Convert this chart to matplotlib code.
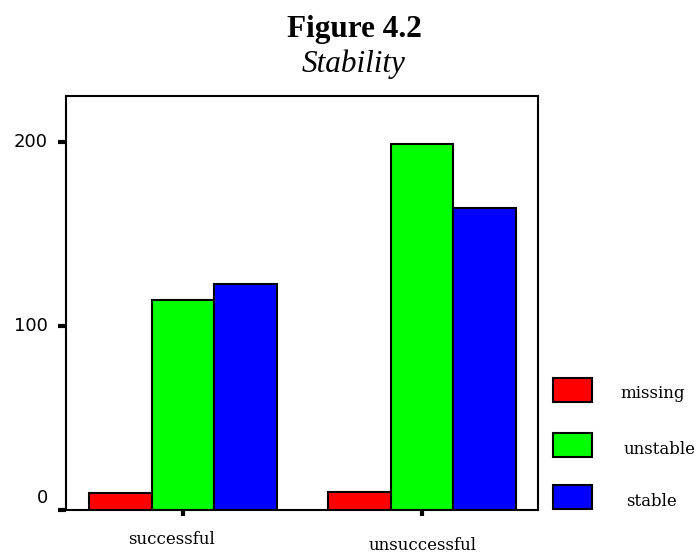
import matplotlib.pyplot as plt
import matplotlib.transforms as mtransforms
from matplotlib.patches import Rectangle
import numpy as np

# outcome groups and stability counts
groups = ['successful', 'unsuccessful']
series = ['missing', 'unstable', 'stable']
missing = [9, 10]
unstable = [114, 199]
stable = [123, 164]
colors = ['#ff0000', '#00ff00', '#0000ff']
yticks = [0, 100, 200]

fig = plt.figure(figsize=(6.99, 5.53), dpi=100)
ax = fig.add_axes([66 / 699, 1 - 510 / 553, (538 - 66) / 699, (510 - 96) / 553])

x = np.arange(len(groups))
w = 0.262
for i, (vals, col) in enumerate(zip([missing, unstable, stable], colors)):
    ax.bar(x + (i - 1) * w, vals, width=w, color=col, edgecolor='black', linewidth=1.5)

ax.set_xlim(-0.49, 1.485)
ax.set_ylim(0, 225)
ax.set_yticks(yticks)
ax.set_yticklabels([])
ax.set_xticks(x)
ax.set_xticklabels([])
ax.tick_params(axis='y', direction='out', length=6, width=3, color='black')
ax.tick_params(axis='x', direction='out', length=4, width=3, color='black')
for s in ax.spines.values():
    s.set_linewidth(1.5)

# tick labels, placed like the original (the 0 sits a bit above its tick,
# the group names are staggered)
ylab_tr = ax.get_yaxis_transform()
for v in yticks:
    off = mtransforms.ScaledTranslation(-18 / 100, (12 if v == 0 else 0) / 100, fig.dpi_scale_trans)
    ax.text(0, v, str(v), transform=ylab_tr + off, fontsize=13, family='DejaVu Sans',
            ha='right', va='center')
xlab_tr = ax.get_xaxis_transform()
for xi, name, dx, dy in zip(x, groups, [-12, 1], [-30, -35]):
    off = mtransforms.ScaledTranslation(dx / 100, dy / 100, fig.dpi_scale_trans)
    ax.text(xi, 0, name, transform=xlab_tr + off, fontsize=12, family='DejaVu Serif',
            ha='center', va='center')

# legend drawn outside the axes
ys = [390, 445, 497]
text_x = [620, 624, 626]
for name, col, yy, tx in zip(series, colors, ys, text_x):
    fig.patches.append(Rectangle((553 / 699, 1 - (yy + 12) / 553), 39 / 699, 24 / 553,
                                 transform=fig.transFigure, facecolor=col,
                                 edgecolor='black', linewidth=1.5))
    fig.text(tx / 699, 1 - (yy + 4) / 553, name, fontsize=12, family='DejaVu Serif',
             va='center', ha='left')

fig.text(354 / 699, 1 - 37 / 553, 'Figure 4.2', fontsize=22.5, weight='bold',
         family='Liberation Serif', ha='center', va='baseline')
fig.text(354 / 699, 1 - 72 / 553, 'Stability', fontsize=22.5, style='italic',
         family='Liberation Serif', ha='center', va='baseline')

fig.savefig('out.png', dpi=100)
